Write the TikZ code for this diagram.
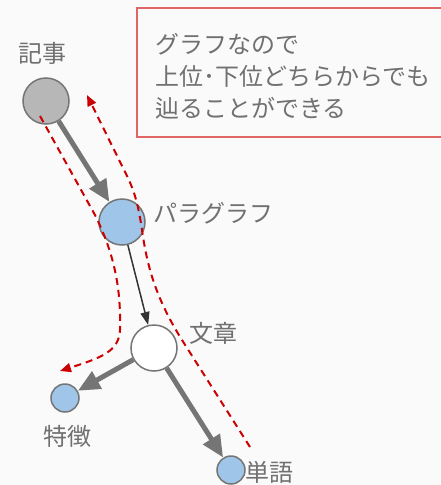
\documentclass[tikz,border=0pt]{standalone}
\usepackage{fontspec}
\setmainfont{Noto Sans CJK JP}
\usetikzlibrary{arrows.meta}
\definecolor{bg}{HTML}{FAFAFA}
\definecolor{txt}{HTML}{707070}
\definecolor{strk}{HTML}{757575}
\definecolor{gfill}{HTML}{B7B7B7}
\definecolor{bfill}{HTML}{9FC5E8}
\definecolor{rdash}{HTML}{CC0000}
\definecolor{rbox}{HTML}{E06666}
\definecolor{darkarr}{HTML}{333333}
\tikzset{
  big/.style={circle, draw=strk, line width=1.5pt, minimum size=46pt, inner sep=0pt},
  small/.style={circle, draw=strk, line width=1.5pt, minimum size=28pt, inner sep=0pt},
  lbl/.style={text=txt, font=\fontsize{24pt}{32pt}\selectfont, inner sep=0pt},
  thick arr/.style={draw=strk, line width=5pt, -{Triangle[length=22pt,width=19pt]}},
  thin arr/.style={draw=darkarr, line width=1.5pt, -{Triangle[length=13pt,width=9pt]}},
  trace/.style={draw=rdash, line width=2pt, dash pattern=on 7pt off 5pt, -{Triangle[length=11pt,width=9pt]}}
}
\begin{document}
\begin{tikzpicture}[x=1pt,y=-1pt]
\fill[bg] (0,0) rectangle (440,485);
\useasboundingbox (0,0) rectangle (440,485);
% note box
\draw[rbox, line width=1.5pt, fill=bg] (137,8) rectangle (450,137);
\node[lbl, anchor=west, align=left] (note) at (155,76) {グラフなので\\上位･下位どちらからでも\\辿ることができる};
% nodes
\node[big, fill=gfill] (kiji) at (46,101) {};
\node[big, fill=bfill] (para) at (122,222) {};
\node[big, fill=white] (bun) at (154,348) {};
\node[small, fill=bfill] (toku) at (65,398) {};
\node[small, fill=bfill] (tan) at (231,470) {};
% labels
\node[lbl] (lkiji) at (42,53) {記事};
\node[lbl, anchor=west] (lpara) at (153,213) {パラグラフ};
\node[lbl] (lbun) at (213,333) {文章};
\node[lbl] (ltoku) at (67,436) {特徴};
\node[lbl, anchor=west] (ltan) at (245,472) {単語};
% connectors
\draw[thick arr] (kiji) -- (para);
\draw[thin arr] (para) -- (bun);
\draw[thick arr] (bun) -- (toku);
\draw[thick arr] (bun) -- (tan);
% traversal traces
\coordinate (d1s) at (40,116);
\coordinate (d1e) at (60,371);
\coordinate (d2s) at (250,447);
\coordinate (d2e) at (87,95);
\draw[trace] (d1s) -- (95,215) .. controls (115,255) and (121,290) .. (120,330) .. controls (119,352) and (100,358) .. (d1e);
\draw[trace] (d2s) -- (182,340) .. controls (155,297) and (147,265) .. (142,230) .. controls (139,210) and (136,195) .. (128,178) -- (d2e);
\end{tikzpicture}
\end{document}
